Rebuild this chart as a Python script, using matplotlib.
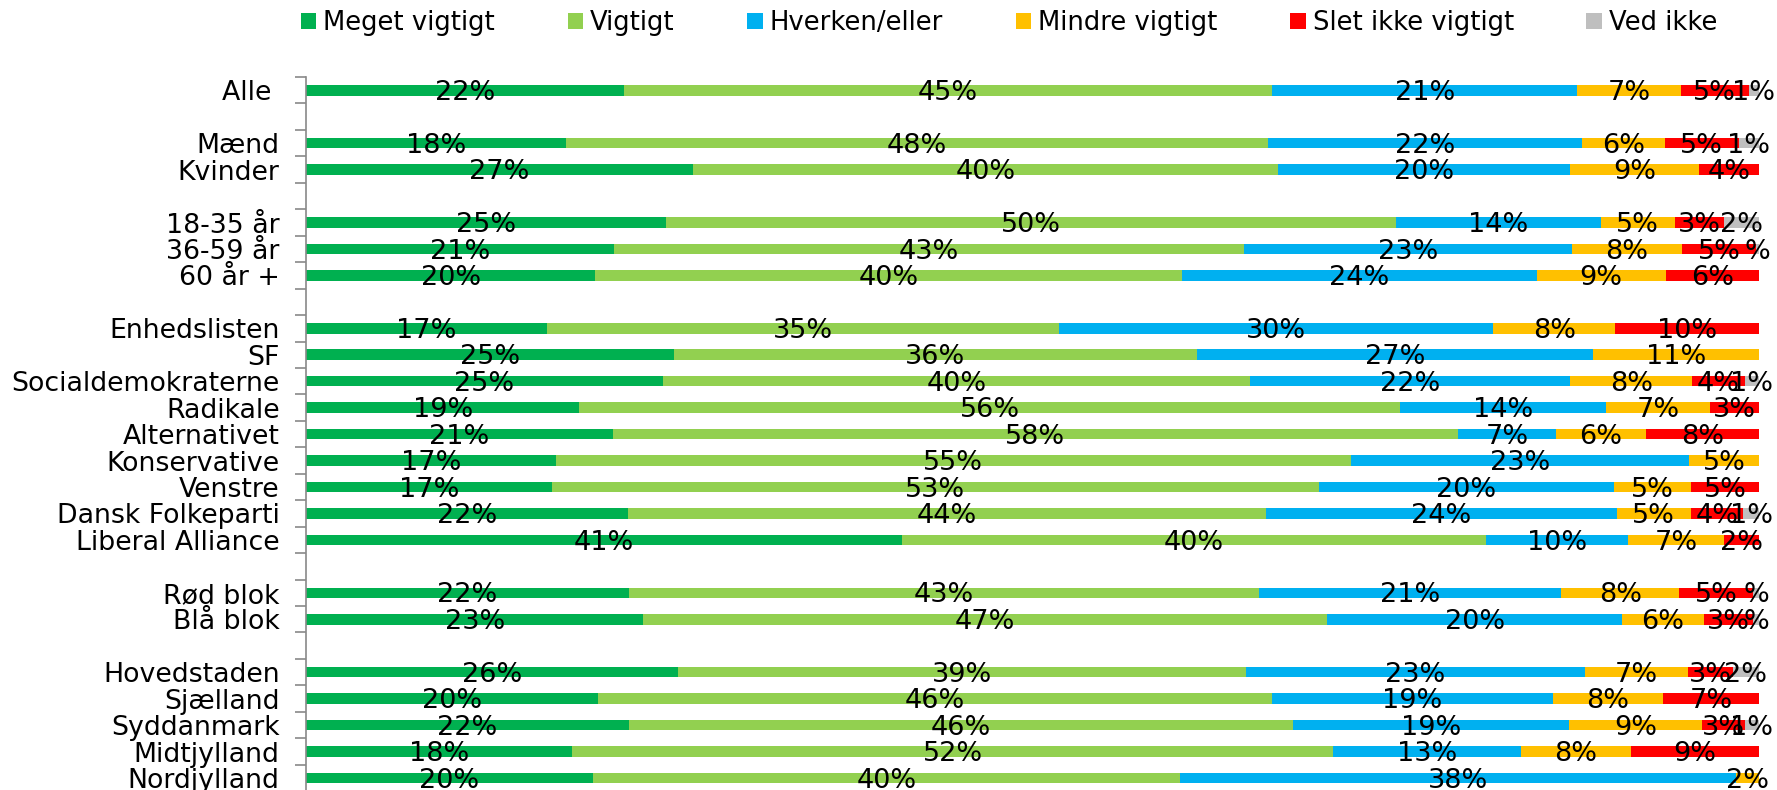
import numpy as np
import matplotlib
matplotlib.use("Agg")
import matplotlib.pyplot as plt

plt.rcParams['font.family'] = ['DejaVu Sans']

categories = ['Meget vigtigt', 'Vigtigt', 'Hverken/eller', 'Mindre vigtigt',
              'Slet ikke vigtigt', 'Ved ikke']
colors = ['#00B050', '#92D050', '#00B0F0', '#FFC000', '#FF0000', '#BFBFBF']

# '' = blank spacer row
groups = ['Alle ', '', 'Mænd', 'Kvinder', '', '18-35 år', '36-59 år', '60 år +', '',
          'Enhedslisten', 'SF', 'Socialdemokraterne', 'Radikale', 'Alternativet',
          'Konservative', 'Venstre', 'Dansk Folkeparti', 'Liberal Alliance', '',
          'Rød blok', 'Blå blok', '',
          'Hovedstaden', 'Sjælland', 'Syddanmark', 'Midtjylland', 'Nordjylland']

nan = np.nan
# percentages per group (nan = no segment / no label)
meget = [21.9, nan, 17.9, 26.6, nan, 24.8, 21.2, 19.9, nan, 16.6, 25.3, 24.6, 18.8, 21.1,
         17.2, 16.9, 22.2, 41.0, nan, 22.2, 23.2, nan, 25.6, 20.1, 22.2, 18.3, 19.7]
vigtigt = [44.6, nan, 48.3, 40.3, nan, 50.2, 43.4, 40.3, nan, 35.3, 36.0, 40.4, 56.4, 58.2,
           54.7, 52.8, 43.9, 40.2, nan, 43.4, 47.0, nan, 39.1, 46.4, 45.7, 52.4, 40.4]
hverken = [21.0, nan, 21.6, 20.1, nan, 14.1, 22.6, 24.4, nan, 29.9, 27.3, 22.1, 14.2, 6.7,
           23.3, 20.3, 24.2, 9.8, nan, 20.8, 20.3, nan, 23.3, 19.3, 19.0, 12.9, 38.2]
mindre = [7.1, nan, 5.7, 8.9, nan, 5.1, 7.6, 8.9, nan, 8.4, 11.4, 8.4, 7.1, 6.2,
          4.8, 5.3, 5.1, 6.6, nan, 8.1, 5.6, nan, 7.1, 7.6, 9.2, 7.6, 1.6]
slet = [4.7, nan, 5.1, 4.1, nan, 3.4, 5.1, 6.4, nan, 9.9, nan, 3.6, 3.4, 7.8,
        nan, 4.7, 3.6, 2.4, nan, 5.1, 3.4, nan, 3.1, 6.6, 2.9, 8.8, nan]
vedikke = [0.7, nan, 1.4, nan, nan, 2.4, 0.2, nan, nan, nan, nan, 1.0, nan, nan,
           nan, nan, 1.1, nan, nan, 0.4, 0.4, nan, 1.8, nan, 1.0, nan, nan]

data = np.array([meget, vigtigt, hverken, mindre, slet, vedikke], dtype=float).T
vals = np.nan_to_num(data)
totals = vals.sum(axis=1)
totals[totals == 0] = 1
shares = vals / totals[:, None] * 100  # 100% stacked

fig = plt.figure(figsize=(17.77, 7.90), dpi=100)
ax = fig.add_axes([0.1722, -0.0015, 0.8177, 0.904])

y = np.arange(len(groups))
left = np.zeros(len(groups))
for j, (cat, col) in enumerate(zip(categories, colors)):
    ax.barh(y, shares[:, j], left=left, height=0.4, color=col, label=cat)
    for i in range(len(groups)):
        v = data[i, j]
        if np.isnan(v):
            continue
        # values under half a percent show only the sign, as in the source
        txt = f"{v:.0f}%" if round(v) >= 1 else "%"
        ax.text(left[i] + shares[i, j] / 2, y[i] + 0.1, txt, ha='center', va='center',
                fontsize=19.5, color='black')
    left += shares[:, j]

ax.set_xlim(0, 100)
ax.set_ylim(len(groups) - 0.5, -0.5)
ax.set_yticks(y)
ax.set_yticklabels(groups, fontsize=19.3)
ax.set_yticks(np.arange(len(groups) + 1) - 0.5, minor=True)
ax.tick_params(axis='y', which='major', length=0, pad=19)
ax.tick_params(axis='y', which='minor', length=8, color='#898989', width=1.2)
ax.set_xticks([])
for s in ['top', 'right', 'bottom']:
    ax.spines[s].set_visible(False)
ax.spines['left'].set_color('#898989')
ax.spines['left'].set_linewidth(1.2)

fig.legend(loc='center', bbox_to_anchor=(0.5678, 1 - 23 / 790), ncol=6, frameon=False,
           fontsize=18.6, handlelength=0.6, handleheight=0.6, handletextpad=0.27,
           columnspacing=2.81)

fig.savefig('out.png', dpi=100)
